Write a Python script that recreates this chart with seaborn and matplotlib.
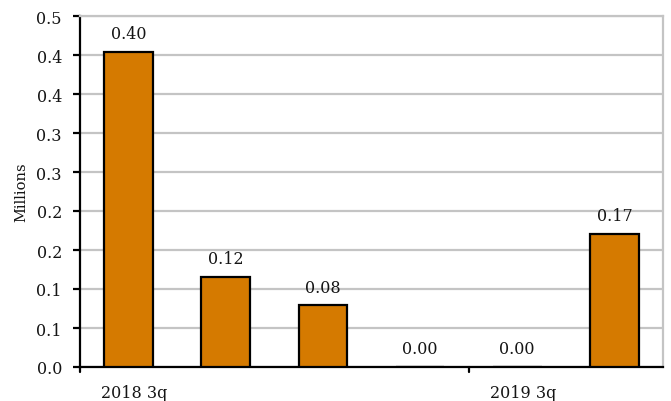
import matplotlib
matplotlib.use("Agg")
import matplotlib.pyplot as plt
import matplotlib.transforms as mtransforms
import seaborn as sns
import pandas as pd

# Quarterly values, in millions
quarters = ["2018 3q", "2018 4q", "2019 1q", "2019 2q", "2019 3q", "2019 4q"]
values = [0.404, 0.116, 0.079, 0.0, 0.0, 0.171]
shown_labels = ["2018 3q", "", "", "", "2019 3q", ""]

y_ticks = [0.0, 0.05, 0.10, 0.15, 0.20, 0.25, 0.30, 0.35, 0.40, 0.45]
y_tick_labels = ["0.0", "0.1", "0.1", "0.2", "0.2", "0.3", "0.3", "0.4", "0.4", "0.5"]

sns.set_theme(style="white")
plt.rcParams["font.family"] = ["DejaVu Serif"]

FS = 11.5
TXT = "#151515"

df = pd.DataFrame({"quarter": quarters, "value": values})

fig = plt.figure(figsize=(6.71, 4.02), dpi=100)
ax = fig.add_axes([80 / 671, 1 - 368 / 402, (663 - 80) / 671, (368 - 17) / 402])

sns.barplot(data=df, x="quarter", y="value", color="#D57A00", saturation=1,
            width=0.5, edgecolor="black", linewidth=1.6, ax=ax, zorder=3)

ax.set_ylim(0, 0.45)
ax.set_xlim(-0.5, len(quarters) - 0.5)
ax.set_yticks(y_ticks)
ax.set_yticklabels(y_tick_labels, fontsize=FS, color=TXT)
ax.yaxis.grid(True, color="#C4C4C4", linewidth=1.6, zorder=0)
ax.set_axisbelow(True)

# category labels every fourth quarter, tick marks on the group boundaries
ax.set_xticks(range(len(quarters)))
ax.set_xticklabels(shown_labels, fontsize=FS, color=TXT)
ax.tick_params(axis="x", length=0, pad=12)
shift = mtransforms.ScaledTranslation(6 / 100, 0, fig.dpi_scale_trans)
for lbl in ax.get_xticklabels():
    lbl.set_transform(lbl.get_transform() + shift)
for b in [-0.5, 3.5]:
    ax.plot([b, b], [0, -0.0065], color="black", lw=1.6, clip_on=False)
ax.tick_params(axis="y", direction="out", length=5, width=1.6, color="black",
               left=True, pad=8)

ax.set_xlabel("")
ax.set_ylabel("Millions", fontsize=FS - 1, color=TXT, labelpad=6)

for side in ["left", "bottom"]:
    ax.spines[side].set_color("black")
    ax.spines[side].set_linewidth(1.6)
for side in ["top", "right"]:
    ax.spines[side].set_color("#C4C4C4")
    ax.spines[side].set_linewidth(1.6)
ax.spines["top"].set_visible(True)
ax.spines["right"].set_visible(True)

for i, v in enumerate(values):
    ax.annotate(f"{v:.2f}", (i, v), xytext=(0, 7), textcoords="offset points",
                ha="center", va="bottom", fontsize=FS, color=TXT)

fig.savefig("out.png", dpi=100)
